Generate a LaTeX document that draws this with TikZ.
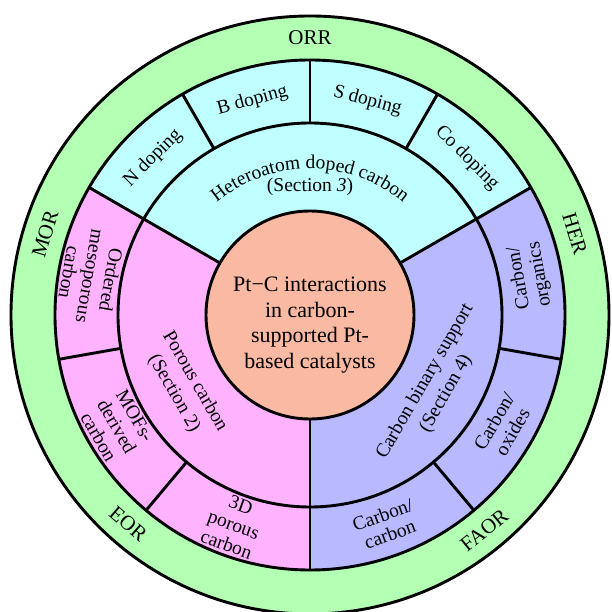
\documentclass[tikz,border=0pt]{standalone}
\usepackage{fontspec}
\setmainfont{Liberation Serif}
\usetikzlibrary{decorations.text}
\definecolor{ringgreen}{RGB}{179,255,179}
\definecolor{hetcyan}{RGB}{191,255,255}
\definecolor{porpink}{RGB}{255,179,255}
\definecolor{binblue}{RGB}{185,185,255}
\definecolor{coresalmon}{RGB}{249,185,163}
\newcommand\hetarcfont{\fontsize{19.5}{23}\selectfont}
\begin{document}
\begin{tikzpicture}[x=1pt,y=1pt, line width=2.9pt,
  outerlbl/.style={font=\fontsize{21}{24}\selectfont, inner sep=0pt},
  seclbl/.style={font=\fontsize{19.5}{24}\selectfont, align=center, inner sep=0pt},
  sublbl/.style={font=\fontsize{19.5}{21}\selectfont, align=center, inner sep=0pt},
  corelbl/.style={font=\fontsize{22}{25.5}\selectfont, align=center, inner sep=0pt}]
\useasboundingbox (-310,-297) rectangle (301,315);
\fill[white] (-310,-297) rectangle (301,315);
% rings and sectors
\filldraw[fill=ringgreen] (0,0) circle[radius=299];
\fill[hetcyan] (0,0) -- (30:255) arc[start angle=30,end angle=150,radius=255] -- cycle;
\fill[porpink] (0,0) -- (150:255) arc[start angle=150,end angle=270,radius=255] -- cycle;
\fill[binblue] (0,0) -- (270:255) arc[start angle=270,end angle=390,radius=255] -- cycle;
\draw (0,0) circle[radius=255];
\draw (0,0) circle[radius=192];
\foreach \a in {30,150,270} \draw (\a:104) -- (\a:255);
\foreach \a in {60,90,120,190,230,310,350} \draw (\a:192) -- (\a:255);
\filldraw[fill=coresalmon] (0,0) circle[radius=104];
% outer ring labels
\node[outerlbl] (orr) at (90:277) {ORR};
\node[outerlbl, rotate=-73] (her) at (17:277) {HER};
\node[outerlbl, rotate=73] (mor) at (163:277) {MOR};
\node[outerlbl, rotate=-41] (eor) at (229:277) {EOR};
\node[outerlbl, rotate=39] (faor) at (309:277) {FAOR};
% top sub-items
\node[sublbl, rotate=45] (ndop) at (135:222) {N doping};
\node[sublbl, rotate=15] (bdop) at (105:222) {B doping};
\node[sublbl, rotate=-15] (sdop) at (75:222) {S doping};
\node[sublbl, rotate=-45] (codop) at (45:222) {Co doping};
% left sub-items
\node[sublbl, rotate=260] (omc) at (170:223) {Ordered\\mesoporous\\carbon};
\node[sublbl, rotate=300] (mof) at (210:223) {MOFs-\\derived\\carbon};
\node[sublbl, rotate=340] (tdp) at (250:223) {3D\\porous\\carbon};
% right sub-items
\node[sublbl, rotate=20] (cc) at (290:223) {Carbon/\\carbon};
\node[sublbl, rotate=60] (cox) at (330:223) {Carbon/\\oxides};
\node[sublbl, rotate=100] (corg) at (10:223) {Carbon/\\organics};
% sections
\path[postaction={decorate}, decoration={text along path, text align=center,
  text={|\hetarcfont|Heteroatom doped carbon}}]
  (150:146) arc[start angle=150, end angle=30, radius=146];
\node[seclbl, anchor=base] (het) at (0,123) {(Section \textit{3})};
\node[seclbl, rotate=300] (por) at (210:145) {Porous carbon\\(Section 2)};
\node[seclbl, rotate=60] (bin) at (330:145) {Carbon binary support\\(Section 4)};
% core
\node[corelbl] (core) at (0,-10) {Pt−C interactions\\in carbon-\\supported Pt-\\based catalysts};
\end{tikzpicture}
\end{document}
